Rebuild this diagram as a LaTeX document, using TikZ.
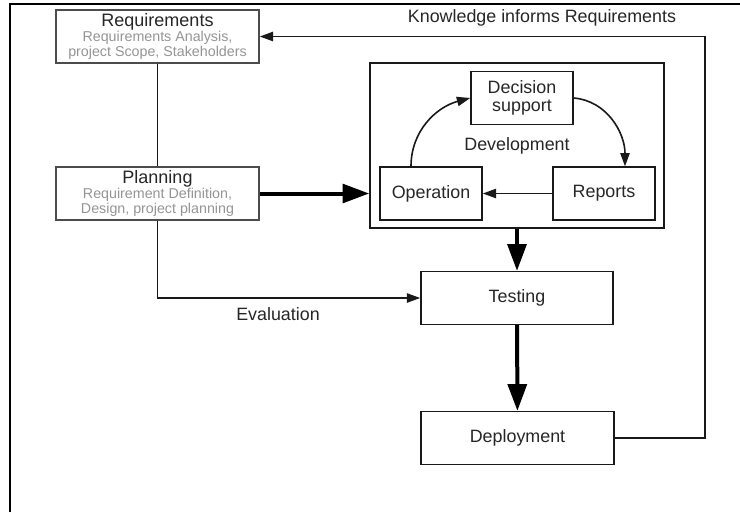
\documentclass[tikz,border=0pt]{standalone}
\usepackage{fontspec}
\setmainfont{Liberation Sans}
\usetikzlibrary{arrows.meta}
\colorlet{box edge}{black!70}
\colorlet{main text}{black!85}
\colorlet{sub text}{black!42}
\newcommand{\subline}[1]{{\color{sub text}\fontsize{10.7}{11}\selectfont #1}}
\tikzset{phase/.style={draw=box edge, line width=1.4pt, minimum width=152pt, minimum height=39.5pt,
        align=center, inner sep=1pt, text=main text, font=\fontsize{13.5}{11}\selectfont},
    stage/.style={draw=black!90, line width=1.2pt, minimum height=39.5pt, align=center,
        text=main text, font=\fontsize{13.4}{15}\selectfont},
    caption/.style={text=main text, font=\fontsize{13.4}{15}\selectfont},
    link/.style={draw=black!90, line width=1.2pt},
    thinarrow/.style={link, -{Triangle[length=10pt,width=7pt]}},
    boldarrow/.style={draw=black, line width=3pt, -{Triangle[length=20pt,width=14pt]}}}

\begin{document}
\begin{tikzpicture}[x=0.75pt,y=-0.75pt]
    \useasboundingbox (0,0) rectangle (740,512);
    \draw[line width=1.5pt] (10,512) -- (10,4) -- (740,4);
    % left column
    \node[phase] (req) at (157.5,36.5) {Requirements\\\subline{Requirements Analysis,}\\\subline{project Scope, Stakeholders}};
    \node[phase] (plan) at (157.5,193.5) {Planning\\\subline{Requirement Definition,}\\\subline{Design, project planning}};
    % development loop
    \node[stage, minimum width=220.5pt, minimum height=123.75pt] (dev) at (517,145.5) {Development};
    \node[stage, minimum width=76.5pt] (dec) at (522,98) {Decision\\[-2pt]support};
    \node[stage, minimum width=76.5pt] (oper) at (431,193.5) {Operation};
    \node[stage, minimum width=76.5pt] (rep) at (604,193.5) {Reports};
    % right column
    \node[stage, minimum width=144pt] (test) at (517,298) {Testing};
    \node[stage, minimum width=144.75pt] (deploy) at (517.5,438) {Deployment};
    \coordinate (corner) at (705,36.5);
    \node[caption] (know) at (542,18) {Knowledge informs Requirements};
    \node[caption] (eval) at (278,314) {Evaluation};

    \draw[link] (req) -- (plan);
    \draw[thinarrow] (plan.south) |- (test.west);
    \draw[boldarrow] (plan.east) -- (plan.east -| dev.west);
    \draw[boldarrow] (dev) -- (test);
    \draw[boldarrow] (test) -- (deploy);
    \draw[thinarrow] (rep) -- (oper);
    \draw[thinarrow] ([xshift=-15pt]oper.north) to[out=90,in=195] (dec.west);
    \draw[thinarrow] (dec.east) to[out=-5,in=90] ([xshift=15.75pt]rep.north);
    \draw[thinarrow] (deploy.east) -| (corner) -- (req.east);
\end{tikzpicture}
\end{document}
